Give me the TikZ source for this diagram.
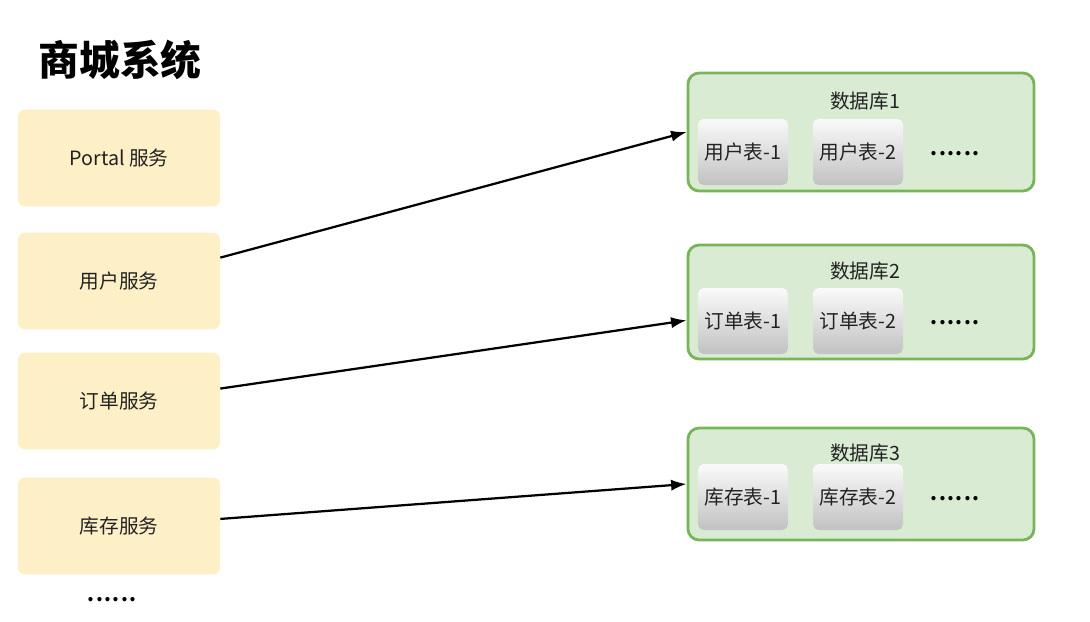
\documentclass[tikz,border=0pt]{standalone}
\usepackage{fontspec}
\setmainfont{Noto Sans CJK SC}
\usepackage{xcolor}
\usepackage{tikz}
\usetikzlibrary{positioning, arrows.meta, shadings}

\definecolor{svcyellow}{RGB}{253,240,199}
\definecolor{dbgreen}{RGB}{217,236,211}
\definecolor{dbedge}{RGB}{120,180,90}
\definecolor{inkgray}{RGB}{34,34,34}

\newcommand{\sixdots}{.\kern1pt.\kern1pt.\kern1pt.\kern1pt.\kern1pt.}

\tikzset{
  svcbox/.style={fill=svcyellow, rounded corners=5pt, minimum width=5.05cm, minimum height=2.42cm,
    font=\fontsize{14}{16}\selectfont, text=inkgray},
  dbbox/.style={fill=dbgreen, draw=dbedge, line width=2pt, rounded corners=8pt,
    minimum width=8.65cm, minimum height=2.9cm},
  dblabel/.style={font=\fontsize{14}{16}\selectfont, text=inkgray},
  tblbox/.style={top color=gray!4, bottom color=gray!48, rounded corners=4pt,
    minimum width=2.25cm, minimum height=1.65cm, font=\fontsize{14}{16}\selectfont, text=inkgray},
  dots/.style={font=\fontsize{14}{16}\selectfont\bfseries},
  link/.style={line width=1.6pt, -{Latex[length=11pt, width=8pt]}}
}

\begin{document}
\begin{tikzpicture}[x=0.025cm, y=-0.025cm]
  \useasboundingbox (0,0) rectangle (1090,621);

  \node[font=\fontsize{29}{32}\selectfont\bfseries] (title) at (120,60) {商城系统};

  % services
  \foreach \n/\y/\t in {portal/158/Portal 服务, usr/281/用户服务, ord/401/订单服务, stk/526/库存服务} {
    \node[svcbox] (\n) at (119,\y) {\t};
  }
  \node[dots] (svcmore) at (112,600) {\sixdots};

  % databases
  \foreach \n/\i/\y/\h/\k/\tb in {db1/1/132/2.95/20/用户表, db2/2/302/2.85/19/订单表, db3/3/484/2.8/13/库存表} {
    \node[dbbox, minimum height=\h cm] (\n) at (861,\y) {};
    \node[dblabel] (\n-lab) at (865,\y-31) {数据库\i};
    \node[tblbox] (\n-t1) at (743,\y+\k) {\tb-1};
    \node[tblbox] (\n-t2) at (858,\y+\k) {\tb-2};
    \node[dots] (\n-more) at (955,\y+\k+2) {\sixdots};
  }

  \draw[link] (usr.13) -- (db1.west);
  \draw[link] (ord.7) -- (db2.186);
  \draw[link] (stk.4) -- (db3.west);
\end{tikzpicture}
\end{document}
